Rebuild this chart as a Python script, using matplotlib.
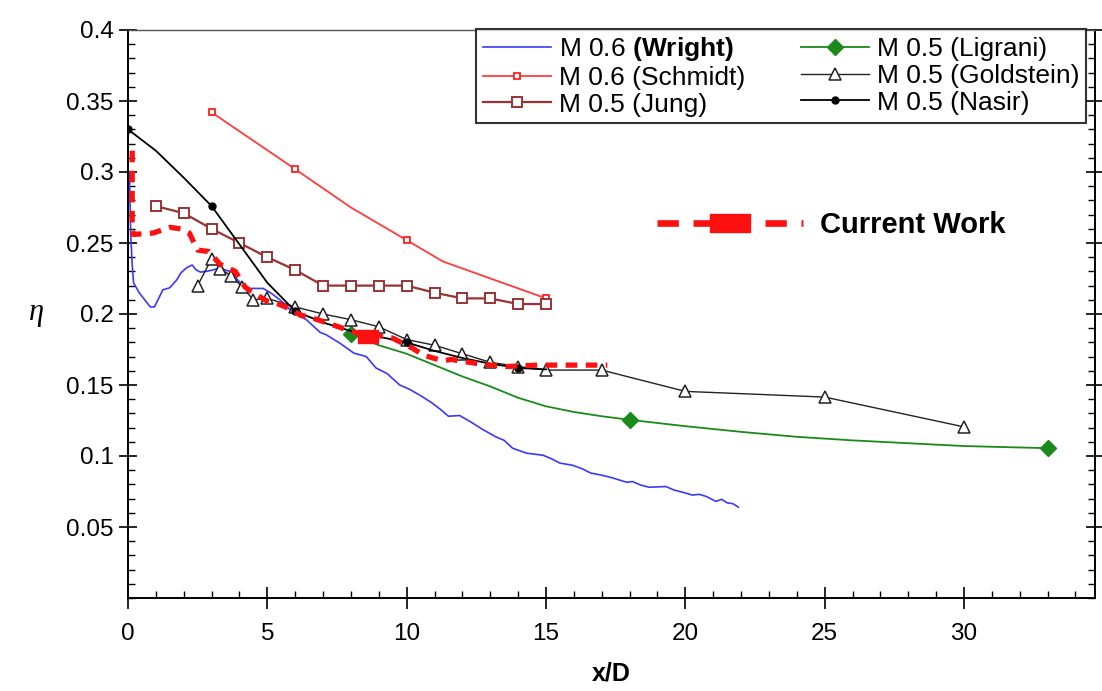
import matplotlib
matplotlib.use("Agg")
import matplotlib.pyplot as plt
from matplotlib.lines import Line2D
from matplotlib.ticker import MultipleLocator, FixedLocator

plt.rcParams['font.family'] = ['Liberation Sans', 'DejaVu Sans']
plt.rcParams['mathtext.fontset'] = 'custom'
plt.rcParams['mathtext.bf'] = 'Liberation Sans:bold'
plt.rcParams['mathtext.rm'] = 'Liberation Sans'
plt.rcParams['mathtext.it'] = 'Liberation Serif:italic'

# ---------------- data ----------------
wright_x = [0.05, 0.1, 0.15, 0.2, 0.4, 0.6, 0.8, 0.95, 1.05, 1.25, 1.5, 1.75, 1.9, 2.1, 2.3, 2.45,
            2.6, 2.8, 3.05, 3.3, 3.5, 3.65, 3.85, 4.0, 4.25, 4.6, 4.85, 5.15, 5.45, 5.9, 6.4, 6.9,
            7.1, 7.6, 8.1, 8.55, 8.9, 9.3, 9.75, 10.1, 10.5, 10.9, 11.2, 11.5, 11.9, 12.3, 12.7,
            13.2, 13.5, 13.8, 14.3, 14.9, 15.2, 15.5, 15.95, 16.3, 16.6, 17.0, 17.4, 17.9, 18.1,
            18.4, 18.7, 19.3, 19.6, 19.9, 20.25, 20.5, 20.75, 21.1, 21.3, 21.5, 21.7, 21.9]
wright_y = [0.300, 0.255, 0.235, 0.222, 0.215, 0.210, 0.205, 0.205, 0.209, 0.217, 0.2185, 0.224,
            0.229, 0.2325, 0.2345, 0.231, 0.2295, 0.230, 0.231, 0.2325, 0.231, 0.230, 0.226, 0.2225,
            0.218, 0.218, 0.218, 0.2145, 0.210, 0.2015, 0.196, 0.187, 0.1855, 0.1795, 0.1725, 0.170,
            0.162, 0.158, 0.150, 0.147, 0.1425, 0.1375, 0.133, 0.128, 0.1285, 0.124, 0.119, 0.1135,
            0.111, 0.1055, 0.102, 0.1005, 0.098, 0.095, 0.0935, 0.091, 0.088, 0.0865, 0.0845, 0.0815,
            0.082, 0.0795, 0.078, 0.0785, 0.076, 0.0745, 0.0725, 0.073, 0.0715, 0.068, 0.0695, 0.067,
            0.0665, 0.064]

schmidt_x = [3, 6, 8, 10, 11.3, 15]
schmidt_y = [0.342, 0.302, 0.275, 0.252, 0.237, 0.211]
schmidt_marks = [0, 1, 3, 5]

jung_x = [1, 2, 3, 4, 5, 6, 7, 8, 9, 10, 11, 12, 13, 14, 15]
jung_y = [0.276, 0.271, 0.260, 0.250, 0.240, 0.231, 0.220, 0.220, 0.220, 0.220, 0.215, 0.211,
          0.211, 0.207, 0.207]

ligrani_x = [8, 9, 10, 11, 12, 13, 14, 15, 16, 17, 18, 20, 22, 24, 26, 28, 30, 33]
ligrani_y = [0.186, 0.178, 0.172, 0.164, 0.156, 0.149, 0.141, 0.135, 0.131, 0.128, 0.1255,
             0.121, 0.117, 0.1135, 0.111, 0.109, 0.107, 0.1055]
ligrani_marks = [0, 10, 17]

gold_x = [2.5, 3, 3.3, 3.7, 4.1, 4.5, 5, 6, 7, 8, 9, 10, 11, 12, 13, 14, 15, 17, 20, 25, 30]
gold_y = [0.220, 0.239, 0.232, 0.227, 0.219, 0.210, 0.211, 0.205, 0.200, 0.196, 0.191, 0.182,
          0.178, 0.172, 0.166, 0.163, 0.1605, 0.1605, 0.1455, 0.1415, 0.1205]

nasir_x = [0, 1, 2, 3, 4, 5, 6, 7, 8, 9, 10, 11, 12, 13, 14, 15]
nasir_y = [0.330, 0.315, 0.296, 0.276, 0.249, 0.222, 0.202, 0.194, 0.188, 0.184, 0.180, 0.174,
           0.169, 0.165, 0.162, 0.161]
nasir_marks = [0, 3, 6, 10, 14]

cw_x = [0.15, 0.15, 0.2, 0.9, 1.5, 1.9, 2.2, 2.5, 2.9, 3.3, 3.85, 4.2, 4.4, 5.0, 5.4, 5.9, 6.2,
        6.5, 7.1, 7.4, 8.0, 8.6, 9.1, 9.5, 10.2, 10.6, 11.3, 11.6, 12.4, 13.0, 13.6, 14.7, 15.7,
        16.7, 17.2]
cw_y = [0.315, 0.260, 0.256, 0.257, 0.261, 0.260, 0.257, 0.245, 0.244, 0.235, 0.230, 0.219,
        0.216, 0.209, 0.207, 0.203, 0.199, 0.198, 0.194, 0.192, 0.188, 0.1845, 0.1845, 0.183,
        0.176, 0.171, 0.167, 0.168, 0.1655, 0.164, 0.163, 0.164, 0.164, 0.164, 0.164]
cw_mark = [21]

x_ticks = [0, 5, 10, 15, 20, 25, 30]
y_ticks = [0.05, 0.1, 0.15, 0.2, 0.25, 0.3, 0.35, 0.4]
y_labels = ['0.05', '0.1', '0.15', '0.2', '0.25', '0.3', '0.35', '0.4']

labels = [r'M 0.6 $\mathbf{(Wright)}$', 'M 0.6 (Schmidt)', 'M 0.5 (Jung)',
          'M 0.5 (Ligrani)', 'M 0.5 (Goldstein)', 'M 0.5 (Nasir)']

# ---------------- figure ----------------
fig = plt.figure(figsize=(11.02, 6.91), dpi=100)
ax = fig.add_axes([128 / 1102, 1 - 598 / 691, (1095 - 128) / 1102, (598 - 30) / 691])

rect_plot = [(-1, -0.65), (1, -0.65), (1, 0.65), (-1, 0.65), (-1, -0.65)]
rect_leg = [(-1, -0.45), (1, -0.45), (1, 0.45), (-1, 0.45), (-1, -0.45)]

h_w, = ax.plot(wright_x, wright_y, color='#3a3aff', lw=1.2)
h_s, = ax.plot(schmidt_x, schmidt_y, color='#ff3b3b', lw=1.3, marker='s', ms=5,
               mfc='white', mec='#ff2020', mew=1.3, markevery=schmidt_marks)
h_j, = ax.plot(jung_x, jung_y, color='#993333', lw=1.6, marker='s', ms=7.5,
               mfc='white', mec='#993333', mew=1.4)
h_l, = ax.plot(ligrani_x, ligrani_y, color='#1a8a1a', lw=1.3, marker='D', ms=8,
               mfc='#1a8a1a', mec='#1a8a1a', markevery=ligrani_marks)
h_g, = ax.plot(gold_x, gold_y, color='#222222', lw=1.0, marker='^', ms=8,
               mfc='white', mec='#222222', mew=1.1)
h_n, = ax.plot(nasir_x, nasir_y, color='black', lw=1.3, marker='o', ms=5,
               mfc='black', mec='black', markevery=nasir_marks)
ax.plot(cw_x, cw_y, color='#ff1010', lw=3.8, dashes=(2.2, 1.6), marker=rect_plot, ms=14.4,
        mfc='#ff1010', mec='#ff1010', markevery=cw_mark, zorder=3)

ax.set_xlim(0, 34.7)
ax.set_ylim(0, 0.4)
ax.xaxis.set_major_locator(FixedLocator(x_ticks))
ax.xaxis.set_minor_locator(MultipleLocator(1))
ax.yaxis.set_major_locator(FixedLocator(y_ticks))
ax.set_yticklabels(y_labels)
ax.yaxis.set_minor_locator(MultipleLocator(0.01))

for s in ax.spines.values():
    s.set_linewidth(1.4)
ax.spines['top'].set_linewidth(1.0)
ax.spines['top'].set_color('#555555')
ax.tick_params(which='major', direction='inout', length=13, width=1.2, labelsize=17.5,
               right=True, pad=4)
ax.tick_params(which='minor', direction='in', length=5, width=1.0, right=True)
ax.tick_params(axis='x', which='major', length=16, pad=10)

ax.set_xlabel('x/D', fontsize=18, fontweight='bold', labelpad=12)
ax.set_ylabel(r'$\eta$', fontsize=22, rotation=0, va='center')
ax.yaxis.set_label_coords(-0.095, 0.5)

leg = ax.legend([h_w, h_s, h_j, h_l, h_g, h_n], labels, ncol=2, loc='lower left',
                bbox_to_anchor=(0.36, 0.836, 0.631, 0.152), mode='expand', borderaxespad=0,
                fontsize=19, frameon=True, fancybox=False, edgecolor='black',
                handlelength=2.6, handletextpad=0.3, columnspacing=1.4, labelspacing=0.1,
                borderpad=0.25)
leg.get_frame().set_linewidth(1.5)
ax.add_artist(leg)

cw_handle = Line2D([], [], color='#ff1010', lw=4.8, dashes=(3.2, 2.2), marker=rect_leg,
                   ms=29, mfc='#ff1010', mec='#ff1010')
leg2 = ax.legend([cw_handle], ['Current Work'], loc='center left',
                 bbox_to_anchor=(0.532, 0.657), frameon=False, borderpad=0,
                 handlelength=5.0, handletextpad=0.6, numpoints=1,
                 prop={'size': 21, 'weight': 'bold'})

fig.savefig('out.png', dpi=100)
